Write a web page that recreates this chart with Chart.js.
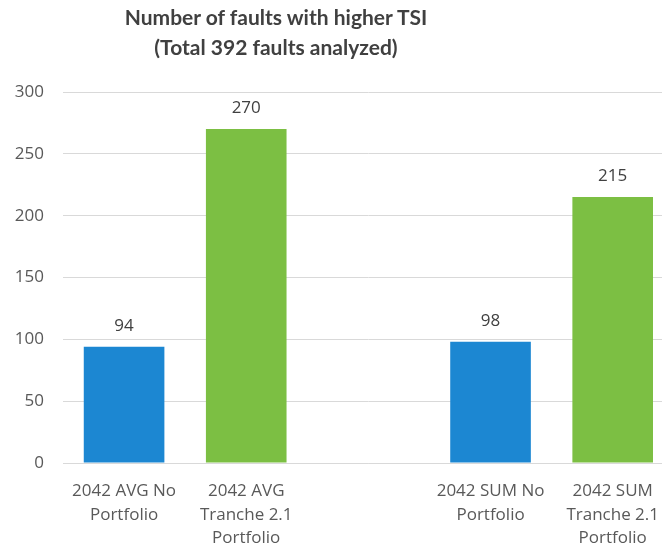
<!DOCTYPE html>
<html lang="en">
<head>
    <meta charset="UTF-8">
    <title>Number of faults with higher TSI</title>
    <script src="https://cdn.jsdelivr.net/npm/chart.js"></script>
    <style>
        html, body { margin: 0; padding: 0; background: #fff; overflow: hidden; }
        .chartBox { position: relative; width: 676px; height: 552px; }
        .chartTitle {
            position: absolute; left: 76px; width: 400px; top: 2px;
            text-align: center; font-family: Lato, sans-serif; font-weight: bold;
            font-size: 21px; line-height: 30px; color: #404040;
        }
    </style>
</head>
<body>
    <div class="chartBox">
        <div class="chartTitle">Number of faults with higher TSI<br>(Total 392 faults analyzed)</div>
        <canvas id="faultsChart" width="676" height="552"></canvas>
    </div>
    <script>
        // categories (middle slot left empty as a spacer between AVG and SUM groups)
        const categories = [
            ['2042 AVG No', 'Portfolio'],
            ['2042 AVG', 'Tranche 2.1', 'Portfolio'],
            '',
            ['2042 SUM No', 'Portfolio'],
            ['2042 SUM', 'Tranche 2.1', 'Portfolio']
        ];
        const faultCounts = [94, 270, null, 98, 215];
        const barColors = ['#1c87d2', '#7cbf43', '#1c87d2', '#1c87d2', '#7cbf43'];
        const yTicks = [0, 50, 100, 150, 200, 250, 300];

        const tickFont = { family: "'Open Sans', sans-serif", size: 17, lineHeight: 1.36 };

        // write the count above each bar
        const valueLabels = {
            id: 'valueLabels',
            afterDatasetsDraw(chart) {
                const c = chart.ctx;
                const meta = chart.getDatasetMeta(0);
                c.save();
                c.font = "17px 'Open Sans', sans-serif";
                c.fillStyle = '#404040';
                c.textAlign = 'center';
                c.textBaseline = 'middle';
                meta.data.forEach((bar, i) => {
                    const v = faultCounts[i];
                    if (v == null) return;
                    c.fillText(String(v), bar.x, bar.y - 21);
                });
                c.restore();
            }
        };

        new Chart(document.getElementById('faultsChart'), {
            type: 'bar',
            data: {
                labels: categories,
                datasets: [{
                    data: faultCounts,
                    backgroundColor: barColors,
                    categoryPercentage: 1,
                    barPercentage: 0.66
                }]
            },
            options: {
                responsive: false,
                animation: false,
                layout: { padding: { top: 92, left: 0, right: 0, bottom: 0 } },
                plugins: {
                    legend: { display: false },
                    tooltip: { enabled: false }
                },
                scales: {
                    x: {
                        grid: { display: false, drawTicks: false },
                        border: { color: '#d9d9d9' },
                        ticks: { font: tickFont, color: '#595959', padding: 17, maxRotation: 0, autoSkip: false },
                        afterFit(scale) { scale.height = 89; }
                    },
                    y: {
                        min: 0,
                        max: 300,
                        afterBuildTicks(scale) { scale.ticks = yTicks.map(v => ({ value: v })); },
                        grid: { color: '#d9d9d9', drawTicks: false },
                        border: { display: false },
                        ticks: { font: tickFont, color: '#595959', padding: 19 },
                        afterFit(scale) { scale.width = 63; }
                    }
                }
            },
            plugins: [valueLabels]
        });
    </script>
</body>
</html>
